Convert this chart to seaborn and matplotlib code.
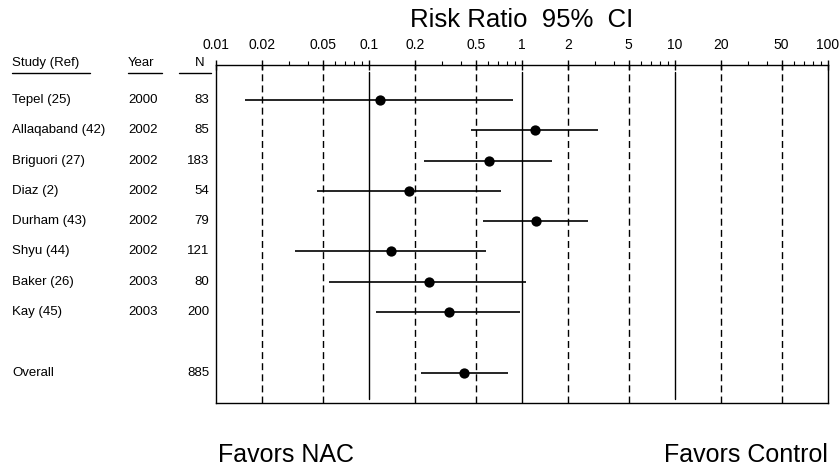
import matplotlib
matplotlib.use("Agg")
import matplotlib.pyplot as plt
import matplotlib.transforms as mtransforms
from matplotlib.ticker import FixedLocator, LogLocator, NullFormatter
import seaborn as sns
import pandas as pd
import numpy as np

# data
studies = ["Tepel (25)", "Allaqaband (42)", "Briguori (27)", "Diaz (2)", "Durham (43)",
           "Shyu (44)", "Baker (26)", "Kay (45)", "Overall"]
years = ["2000", "2002", "2002", "2002", "2002", "2002", "2003", "2003", ""]
n_pat = ["83", "85", "183", "54", "79", "121", "80", "200", "885"]
rr = [0.118, 1.21, 0.612, 0.184, 1.24, 0.140, 0.248, 0.336, 0.421]
ci_low = [0.0155, 0.466, 0.230, 0.046, 0.56, 0.033, 0.055, 0.111, 0.219]
ci_high = [0.875, 3.13, 1.58, 0.731, 2.70, 0.583, 1.06, 0.973, 0.81]
rows = [0, 1, 2, 3, 4, 5, 6, 7, 9]

tick_vals = [0.01, 0.02, 0.05, 0.1, 0.2, 0.5, 1, 2, 5, 10, 20, 50, 100]
tick_labels = ["0.01", "0.02", "0.05", "0.1", "0.2", "0.5", "1", "2", "5", "10", "20", "50", "100"]
dashed_at = [0.02, 0.05, 0.2, 0.5, 2, 5, 20, 50]
solid_at = [0.1, 1, 10]

df = pd.DataFrame({"study": studies, "rr": rr, "lo": ci_low, "hi": ci_high, "row": rows})

sns.set_style("white")
plt.rcParams['font.family'] = ['Liberation Sans Narrow', 'Liberation Sans', 'DejaVu Sans']
plt.rcParams['text.color'] = 'black'
plt.rcParams['xtick.color'] = 'black'
plt.rcParams['xtick.labelcolor'] = 'black'
small = 9.5

fig = plt.figure(figsize=(8.39, 4.70), dpi=100)
ax = fig.add_axes([216 / 839, 1 - 403 / 470, (827.7 - 216) / 839, (403 - 65) / 470])

# reference lines
for v in dashed_at:
    ax.axvline(v, color="black", linestyle=(0, (5, 3)), linewidth=1)
for v in solid_at:
    lo_ = 0 if v == 1 else 0.012
    ax.axvline(v, ymin=lo_, ymax=0.98, color="black", linewidth=1)

# confidence intervals
ax.hlines(df["row"], df["lo"], df["hi"], color="black", linewidth=1.2)
sns.scatterplot(data=df, x="rr", y="row", ax=ax, color="black", s=55,
                edgecolor="black", linewidth=0, zorder=5, legend=False)

ax.set_xscale("log")
ax.set_xlim(0.01, 100)
ax.set_ylim(10.0, -1.155)
ax.set_xlabel("")
ax.set_ylabel("")
ax.set_yticks([])

ax.xaxis.tick_top()
ax.xaxis.set_major_locator(FixedLocator(tick_vals))
ax.set_xticklabels(tick_labels, fontsize=10)
ax.xaxis.set_minor_locator(LogLocator(base=10, subs=np.arange(2, 10)))
ax.xaxis.set_minor_formatter(NullFormatter())
ax.tick_params(axis="x", which="major", direction="inout", length=7, width=1, pad=6, top=True, bottom=False)
ax.tick_params(axis="x", which="minor", direction="out", length=3, width=0.8, top=True, bottom=False)

for sp in ax.spines.values():
    sp.set_color("black")
    sp.set_linewidth(1)

# left-hand table
trans = mtransforms.blended_transform_factory(fig.transFigure, ax.transData)
x_study, x_year, x_n = 12 / 839, 128 / 839, 209 / 839
for s, y, n, r in zip(studies, years, n_pat, rows):
    ax.text(x_study, r, s, transform=trans, ha="left", va="center", fontsize=small, clip_on=False)
    ax.text(x_year, r, y, transform=trans, ha="left", va="center", fontsize=small, clip_on=False)
    ax.text(x_n, r, n, transform=trans, ha="right", va="center", fontsize=small, clip_on=False)

head_y = -1.22
ax.text(x_study, head_y, "Study (Ref)", transform=trans, ha="left", va="center", fontsize=small, clip_on=False)
ax.text(x_year, head_y, "Year", transform=trans, ha="left", va="center", fontsize=small, clip_on=False)
ax.text(x_n - 4 / 839, head_y, "N", transform=trans, ha="right", va="center", fontsize=small, clip_on=False)
line_y = -0.90
for x0, x1 in [(12, 90), (128, 162), (179, 211)]:
    ax.plot([x0 / 839, x1 / 839], [line_y, line_y], transform=trans, color="black",
            linewidth=1, clip_on=False)

big = ["Liberation Sans", "DejaVu Sans"]
fig.text(522 / 839, 1 - 20 / 470, "Risk Ratio  95%  CI", ha="center", va="center",
         fontsize=18.5, family=big)
fig.text(218 / 839, 1 - 455 / 470, "Favors NAC", ha="left", va="center",
         fontsize=18, family=big)
fig.text(828 / 839, 1 - 455 / 470, "Favors Control", ha="right", va="center",
         fontsize=18, family=big)

fig.savefig("out.png", dpi=100)
